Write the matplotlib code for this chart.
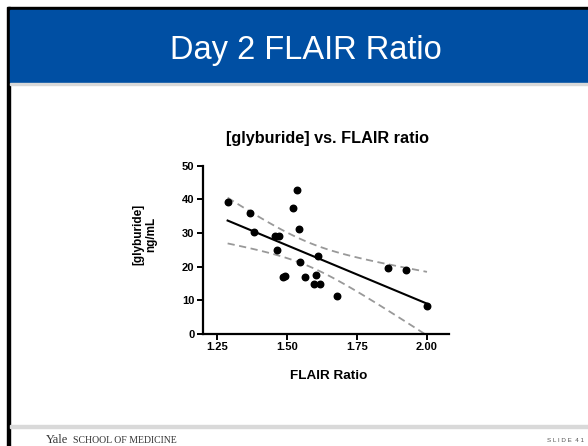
import numpy as np
import matplotlib.pyplot as plt
from matplotlib.patches import Rectangle

# values
flair_ratio = [1.289, 1.370, 1.382, 1.458, 1.474, 1.465, 1.488, 1.494, 1.536, 1.524,
               1.545, 1.549, 1.565, 1.605, 1.596, 1.618, 1.613, 1.679, 1.861, 1.925, 2.001]
glyburide = [39.3, 35.9, 30.2, 29.1, 29.1, 24.9, 16.8, 17.1, 42.8, 37.4,
             31.1, 21.5, 16.9, 17.6, 15.0, 14.9, 23.3, 11.3, 19.6, 18.9, 8.2]
x_ticks = [1.25, 1.50, 1.75, 2.00]
y_ticks = [0, 10, 20, 30, 40, 50]

W, H = 588, 446
fig = plt.figure(figsize=(W / 100, H / 100), dpi=100)
plt.rcParams["font.family"] = ["Liberation Sans", "DejaVu Sans"]

def px(x0, y0, w, h):
    return (x0 / W, 1 - (y0 + h) / H, w / W, h / H)

def box(x0, y0, w, h, color):
    l, b, ww, hh = px(x0, y0, w, h)
    fig.patches.append(Rectangle((l, b), ww, hh, transform=fig.transFigure, color=color))

# slide frame
box(8, 7, 580, 3, "black")
box(7, 7, 3, 439, "black")
box(10, 10, 578, 72, "#004fa3")
box(10, 82.5, 578, 2.5, "#d9d9d9")
box(10, 425, 578, 3, "#d9d9d9")

fig.text(306 / W, 1 - 59.5 / H, "Day 2 FLAIR Ratio", color="white", fontsize=23.5, ha="center", va="baseline")
fig.text(46 / W, 1 - 443 / H, "Yale", family="Liberation Serif", fontsize=9, color="#333333", va="baseline")
fig.text(73 / W, 1 - 443 / H, "SCHOOL OF MEDICINE", family="Liberation Serif", fontsize=7, color="#333333", va="baseline")
fig.text(584 / W, 1 - 442 / H, "S L I D E  4 1", fontsize=4.5, color="#555555", ha="right", va="baseline")

# scatter plot
ax = fig.add_axes(px(202.7, 165.7, 0.88 * 280, 168.3))
x = np.array(flair_ratio)
y = np.array(glyburide)
ax.scatter(x, y, s=22, color="black", zorder=3)

slope, intercept = np.polyfit(x, y, 1)
n = len(x)
xs = np.linspace(x.min(), x.max(), 100)
fit = slope * xs + intercept
resid = y - (slope * x + intercept)
s_err = np.sqrt(np.sum(resid ** 2) / (n - 2))
t_val = 2.093  # t(0.975, df=19)
band = t_val * s_err * np.sqrt(1 / n + (xs - x.mean()) ** 2 / np.sum((x - x.mean()) ** 2))
ax.plot(xs, fit, color="black", lw=1.5)
ax.plot(xs, fit + band, color="#999999", lw=1.3, ls=(0, (4, 2.5)))
ax.plot(xs, fit - band, color="#999999", lw=1.3, ls=(0, (4, 2.5)))

ax.set_xlim(1.2, 2.08)
ax.set_ylim(0, 50)
ax.set_xticks(x_ticks)
ax.set_xticklabels([f"{t:.2f}" for t in x_ticks])
ax.set_yticks(y_ticks)
for s in ["top", "right"]:
    ax.spines[s].set_visible(False)
for s in ["left", "bottom"]:
    ax.spines[s].set_linewidth(1.6)
ax.tick_params(direction="out", length=4, width=1.4, labelsize=8, pad=2)
for lab in ax.get_xticklabels() + ax.get_yticklabels():
    lab.set_fontweight("bold")

fig.text(328 / W, 1 - 138 / H, "[glyburide] vs. FLAIR ratio", fontsize=11.7, fontweight="bold", ha="center", va="center")
fig.text(328.5 / W, 1 - 376 / H, "FLAIR Ratio", fontsize=9.7, fontweight="bold", ha="center", va="center")
fig.text(145 / W, 1 - 234 / H, "[glyburide]\nng/mL", fontsize=8.5, fontweight="bold", ha="center", va="center",
         rotation=90, linespacing=1.1)

fig.savefig("out.png", dpi=100)
